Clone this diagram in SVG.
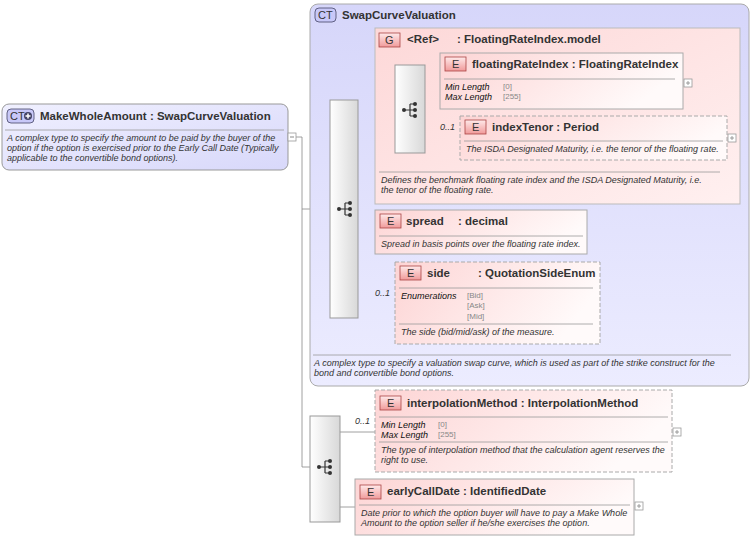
<svg xmlns="http://www.w3.org/2000/svg" width="755" height="540" viewBox="0 0 755 540">
<defs>
<linearGradient id="gct" x1="0" y1="0" x2="1" y2="1"><stop offset="0" stop-color="#f0f0ff"/><stop offset="1" stop-color="#d8d8fa"/></linearGradient>
<linearGradient id="gct2" x1="0" y1="0" x2="0" y2="1"><stop offset="0" stop-color="#d6d6fa"/><stop offset="1" stop-color="#ececff"/></linearGradient>
<linearGradient id="gel" x1="0" y1="0" x2="1" y2="0.3"><stop offset="0" stop-color="#fdd4d4"/><stop offset="1" stop-color="#fffafa"/></linearGradient>
<linearGradient id="ggr" x1="0" y1="0" x2="1" y2="1"><stop offset="0" stop-color="#fdd8d8"/><stop offset="1" stop-color="#fff0f0"/></linearGradient>
<linearGradient id="gseq" x1="0" y1="0" x2="1" y2="0"><stop offset="0" stop-color="#ffffff"/><stop offset="1" stop-color="#d8d8d8"/></linearGradient>
<linearGradient id="gbadge" x1="0" y1="0" x2="0" y2="1"><stop offset="0" stop-color="#ffeaea"/><stop offset="1" stop-color="#f09a9a"/></linearGradient>
<g id="seqicon"><circle cx="-6" cy="0" r="2" fill="#333"/><path d="M-6 0H0M0 -6V6M0 -6H5M0 0H5M0 6H5" stroke="#333" stroke-width="1.2" fill="none"/><circle cx="5" cy="-6" r="2" fill="#333"/><circle cx="5" cy="0" r="2" fill="#333"/><circle cx="5" cy="6" r="2" fill="#333"/></g>
<g id="plus"><rect x="0" y="0" width="8" height="8" fill="#fff" stroke="#999" stroke-width="0.8"/><path d="M2 4H6M4 2V6" stroke="#888" stroke-width="0.8"/></g>
</defs>
<style>
.t{font-family:"Liberation Sans",Arial,sans-serif;font-size:11.5px;font-weight:bold;fill:#333}
.d{font-family:"Liberation Sans",Arial,sans-serif;font-size:9px;font-style:italic;fill:#333}
.p{font-family:"Liberation Sans",Arial,sans-serif;font-size:9px;font-style:italic;fill:#111}
.v{font-family:"Liberation Sans",Arial,sans-serif;font-size:8px;fill:#888}
.b{font-family:"Liberation Sans",Arial,sans-serif;font-size:11px;fill:#333}
.el{fill:url(#gel);stroke:#aaa;stroke-width:1}
.opt{fill:url(#gel);stroke:#aaa;stroke-width:1;stroke-dasharray:4,2}
.badge{fill:url(#gbadge);stroke:#a44;stroke-width:0.8}
.cbadge{fill:#c8c8f8;stroke:#446;stroke-width:0.8}
.seq{fill:url(#gseq);stroke:#999;stroke-width:1}
.ln{stroke:#888;stroke-width:0.8;fill:none}
.dv{stroke:#999;stroke-width:0.8}
</style>
<g id="connectors">
<path class="ln" d="M296 137H302V467M302 209H330M302 467H310"/>
<path class="ln" d="M358 115H375M358 221H375M358 302H395"/>
<path class="ln" d="M425 80H440M425 137H460"/>
<path class="ln" d="M340 432H375M340 507H355"/>
</g>
<g id="MakeWholeAmount">
<rect x="2" y="104" width="286" height="66" rx="7" fill="url(#gct)" stroke="#999"/>
<rect x="7" y="109" width="27" height="14" rx="4" class="cbadge"/>
<text x="10" y="120" class="b">CT</text><circle cx="28" cy="116" r="4" fill="#446"/><path d="M25.5 116H30.5M28 113.5V118.5" stroke="#fff" stroke-width="1.5"/>
<text x="40" y="120" class="t">MakeWholeAmount : SwapCurveValuation</text>
<line x1="5" y1="130" x2="284" y2="130" class="dv"/>
<text x="7" y="141" class="d">A complex type to specify the amount to be paid by the buyer of the</text>
<text x="7" y="151" class="d">option if the option is exercised prior to the Early Call Date (Typically</text>
<text x="7" y="161" class="d">applicable to the convertible bond options).</text>
<rect x="288" y="133" width="8" height="8" fill="#fff" stroke="#999" stroke-width="0.8"/><path d="M290 137H294" stroke="#888"/>
</g>
<g id="SwapCurveValuation">
<rect x="310" y="4" width="439" height="382" rx="8" fill="url(#gct2)" stroke="#aaa"/>
<rect x="315" y="8" width="21" height="14" rx="4" class="cbadge"/><text x="318" y="19" class="b">CT</text>
<text x="342" y="19" class="t">SwapCurveValuation</text>
<line x1="313" y1="355" x2="731" y2="355" class="dv"/>
<text x="314" y="366" class="d">A complex type to specify a valuation swap curve, which is used as part of the strike construct for the</text>
<text x="314" y="376" class="d">bond and convertible bond options.</text>
</g>
<g id="seq1"><rect x="330" y="100" width="28" height="218" class="seq"/><use href="#seqicon" x="345" y="209"/></g>
<g id="FloatingRateIndexModel">
<rect x="375" y="28" width="365" height="176" fill="url(#ggr)" stroke="#bbb"/>
<rect x="379" y="33" width="21" height="14" class="badge"/><text x="385" y="44" class="b">G</text>
<text x="407" y="43" class="t">&lt;Ref&gt;</text><text x="457" y="43" class="t">: FloatingRateIndex.model</text>
<line x1="379" y1="172" x2="720" y2="172" class="dv"/>
<text x="381" y="183" class="d">Defines the benchmark floating rate index and the ISDA Designated Maturity, i.e.</text>
<text x="381" y="193" class="d">the tenor of the floating rate.</text>
</g>
<g id="seq2"><rect x="395" y="65" width="30" height="88" class="seq"/><use href="#seqicon" x="410" y="110"/></g>
<g id="floatingRateIndex">
<rect x="440" y="53" width="243" height="56" class="el"/>
<rect x="445" y="57" width="21" height="14" class="badge"/><text x="452" y="68" class="b">E</text>
<text x="472" y="68" class="t">floatingRateIndex : FloatingRateIndex</text>
<line x1="444" y1="79" x2="675" y2="79" class="dv"/>
<text x="445" y="90" class="p">Min Length</text><text x="503" y="89" class="v">[0]</text>
<text x="445" y="100" class="p">Max Length</text><text x="503" y="99" class="v">[255]</text>
<use href="#plus" x="684" y="79"/>
</g>
<g id="indexTenor">
<text x="440" y="130" class="d">0..1</text>
<rect x="460" y="116" width="267" height="44" class="opt"/>
<rect x="465" y="120" width="21" height="14" class="badge"/><text x="472" y="131" class="b">E</text>
<text x="492" y="131" class="t">indexTenor : Period</text>
<line x1="464" y1="141" x2="723" y2="141" class="dv"/>
<text x="466" y="152" class="d">The ISDA Designated Maturity, i.e. the tenor of the floating rate.</text>
<use href="#plus" x="728" y="134"/>
</g>
<g id="spread">
<rect x="375" y="210" width="212" height="44" class="el"/>
<rect x="380" y="214" width="21" height="14" class="badge"/><text x="387" y="225" class="b">E</text>
<text x="406" y="225" class="t">spread</text><text x="458" y="225" class="t">: decimal</text>
<line x1="379" y1="236" x2="583" y2="236" class="dv"/>
<text x="381" y="247" class="d">Spread in basis points over the floating rate index.</text>
</g>
<g id="side">
<text x="375" y="296" class="d">0..1</text>
<rect x="395" y="262" width="205" height="82" class="opt"/>
<rect x="400" y="266" width="21" height="14" class="badge"/><text x="407" y="277" class="b">E</text>
<text x="427" y="277" class="t">side</text><text x="478" y="277" class="t">: QuotationSideEnum</text>
<line x1="399" y1="288" x2="593" y2="288" class="dv"/>
<text x="401" y="299" class="p">Enumerations</text>
<text x="467" y="298" class="v">[Bid]</text><text x="467" y="308" class="v">[Ask]</text><text x="467" y="319" class="v">[Mid]</text>
<line x1="399" y1="324" x2="593" y2="324" class="dv"/>
<text x="401" y="335" class="d">The side (bid/mid/ask) of the measure.</text>
</g>
<g id="seq3"><rect x="310" y="416" width="30" height="106" class="seq"/><use href="#seqicon" x="325" y="467"/></g>
<g id="interpolationMethod">
<text x="355" y="424" class="d">0..1</text>
<rect x="375" y="390" width="297" height="82" class="opt"/>
<rect x="380" y="396" width="21" height="14" class="badge"/><text x="387" y="407" class="b">E</text>
<text x="407" y="407" class="t">interpolationMethod : InterpolationMethod</text>
<line x1="379" y1="417" x2="668" y2="417" class="dv"/>
<text x="381" y="428" class="p">Min Length</text><text x="438" y="427" class="v">[0]</text>
<text x="381" y="438" class="p">Max Length</text><text x="438" y="437" class="v">[255]</text>
<line x1="379" y1="442" x2="668" y2="442" class="dv"/>
<text x="381" y="453" class="d">The type of interpolation method that the calculation agent reserves the</text>
<text x="381" y="463" class="d">right to use.</text>
<use href="#plus" x="673" y="428"/>
</g>
<g id="earlyCallDate">
<rect x="355" y="479" width="279" height="56" class="el"/>
<rect x="360" y="485" width="21" height="14" class="badge"/><text x="367" y="496" class="b">E</text>
<text x="387" y="495" class="t">earlyCallDate : IdentifiedDate</text>
<line x1="359" y1="505" x2="630" y2="505" class="dv"/>
<text x="361" y="516" class="d">Date prior to which the option buyer will have to pay a Make Whole</text>
<text x="361" y="526" class="d">Amount to the option seller if he/she exercises the option.</text>
<use href="#plus" x="635" y="502"/>
</g>
</svg>
